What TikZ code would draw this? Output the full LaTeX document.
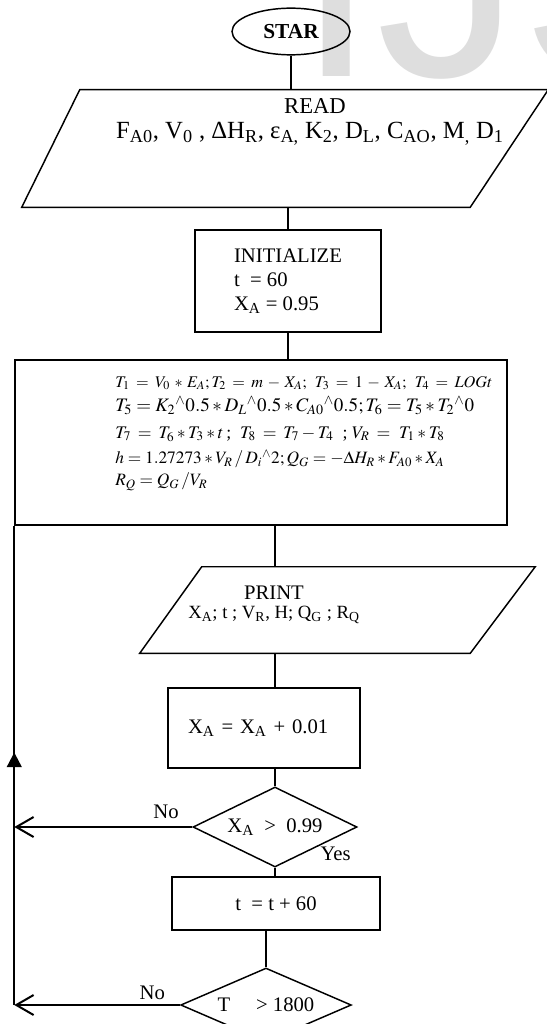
\documentclass[tikz,border=0pt]{standalone}
\usepackage{mathptmx}
\usepackage{fontspec}
\setmainfont{Liberation Serif}
\newfontfamily\wmfont{Liberation Sans}
\usetikzlibrary{arrows.meta, positioning, calc, shapes.geometric, decorations.markings}

\begin{document}
\begin{tikzpicture}[x=0.75pt, y=-0.75pt,
    txt/.style={font=\fontsize{15.5}{18}\selectfont},
    proc/.style={draw, line width=1.1pt, inner sep=0pt, txt},
    dec/.style={draw, diamond, aspect=2, line width=1.1pt, inner sep=0pt, txt},
    io/.style={inner sep=0pt},
    lnk/.style={line width=1.1pt},
    back/.style={-{Straight Barb[length=13pt, width=15pt]}, line width=1.5pt},
    loopln/.style={line width=1.6pt, postaction={decorate},
                   decoration={markings, mark=at position 0.527 with
                   {\arrow{Triangle[length=11pt, width=11pt]}}}},
    lbl/.style={inner sep=0pt, txt},
    fml/.style={anchor=west, inner sep=0pt, font=\fontsize{13}{15}\selectfont}
  ]
    \useasboundingbox (0,0) rectangle (546,1024);
    % watermark behind everything
    \node[anchor=base west, inner sep=0pt, text depth=0pt, text=black!13,
          font=\wmfont\fontsize{217}{217}\selectfont] (mark) at (296,77) {IJS};

    \node[ellipse, draw, line width=1.1pt, minimum width=88.5pt, minimum height=35pt,
          inner sep=0pt, font=\fontsize{16}{18}\selectfont\bfseries] (start) at (291,31.5) {STAR};

    % read block
    \node[io, minimum width=394.5pt, minimum height=87.75pt] (read) at (285,148.5) {};
    \draw[lnk] ([xshift=43.5pt]read.north west) -- (read.north east)
      -- ([xshift=-58.5pt]read.south east) -- (read.south west) -- cycle;
    \node[txt, font=\fontsize{17}{19}\selectfont] (readhd) at (315,106) {READ};
    \node[txt, font=\fontsize{18.5}{20}\selectfont] (readvar) at (310,134)
      {F\textsubscript{A0}, V\textsubscript{0} , ΔH\textsubscript{R}, ε\textsubscript{A,} K\textsubscript{2}, D\textsubscript{L}, C\textsubscript{AO}, M\textsubscript{,} D\textsubscript{1}};

    \node[proc, minimum width=139.5pt, minimum height=76.5pt, align=left] (init) at (288,281)
      {INITIALIZE\\t \ = 60\\X\textsubscript{A} = 0.95};

    % calculation block
    \node[proc, minimum width=369pt, minimum height=123.75pt] (calc) at (261,442.5) {};
    \node[fml, font=\fontsize{12.2}{15}\selectfont] (f1) at (115,383)
      {\thickmuskip=7mu\medmuskip=5mu$T_1 = V_0 * E_A;T_2 = m - X_A;\; T_3 = 1 - X_A;\; T_4 = LOGt$};
    \node[fml, font=\fontsize{14.3}{17}\selectfont] (f2) at (115,406)
      {$T_5 = K_2{}^{\wedge}0.5 * D_L{}^{\wedge}0.5 * C_{A0}{}^{\wedge}0.5;T_6 = T_5 * T_2{}^{\wedge}0$};
    \node[fml, font=\fontsize{13.3}{15}\selectfont] (f3) at (115,434)
      {\thickmuskip=7mu$T_7 = T_6 * T_3 * t$\,; \ $T_8 = T_7 - T_4$ \ ; $V_R =$ \ $T_1 * T_8$};
    \node[fml] (f4) at (115,459)
      {$h = 1.27273 * V_R \,/\, D_i{}^{\wedge}2;Q_G = -\Delta H_R * F_{A0} * X_A$};
    \node[fml] (f5) at (115,482) {$R_Q = Q_G \,/ V_R$};

    % print block
    \node[io, minimum width=296.25pt, minimum height=64.5pt] (print) at (337.5,610) {};
    \draw[lnk] ([xshift=46.5pt]print.north west) -- (print.north east)
      -- ([xshift=-48.75pt]print.south east) -- (print.south west) -- cycle;
    \node[txt] (prhd) at (274,593) {PRINT};
    \node[txt, font=\fontsize{14}{16}\selectfont] (prvar) at (274,615)
      {X\textsubscript{A}; t ; V\textsubscript{R}, H; Q\textsubscript{G} ; R\textsubscript{Q}};

    \node[proc, text width=114pt, inner xsep=15pt, minimum height=60pt, align=left] (incr)
      at (264,728) {X\textsubscript{A} = X\textsubscript{A} + 0.01};
    \node[dec, minimum width=123pt, minimum height=60pt] (dec1) at (275,827)
      {X\textsubscript{A} \ > \ 0.99};
    \node[proc, minimum width=156pt, minimum height=39.75pt] (tinc) at (276,903.5) {t \ = t + 60};
    \node[dec, minimum width=128pt, minimum height=55.5pt] (dec2) at (266,1005) {T \quad > 1800};

    % connectors
    \draw[lnk] (start.south) -- (start.south |- read.north);
    \draw[lnk] (init.north |- read.south) -- (init.north);
    \draw[lnk] (init.south) -- (init.south |- calc.north);
    \draw[lnk] (dec1.north |- calc.south) -- (dec1.north |- print.north);
    \draw[lnk] (dec1.north |- print.south) -- (dec1.north |- incr.north);
    \draw[lnk] (dec1.north |- incr.south) -- (dec1.north);
    \draw[lnk] (dec1.south) -- (dec1.south |- tinc.north);
    \draw[lnk] (dec2.north |- tinc.south) -- (dec2.north);

    % loop back
    \coordinate (loopA) at (dec1.west -| calc.west);
    \coordinate (loopB) at (dec2.west -| calc.west);
    \draw[back] (dec1.west) -- (loopA);
    \draw[back] (dec2.west) -- (loopB);
    \draw[loopln] (loopB) -- (calc.south west);

    \node[lbl, above left=6pt and 10pt of dec1.west] (no1) {No};
    \node[lbl, above right=5pt and 34pt of dec1.south] (yes) {Yes};
    \node[lbl, above left=4pt and 11pt of dec2.west] (no2) {No};
\end{tikzpicture}
\end{document}
